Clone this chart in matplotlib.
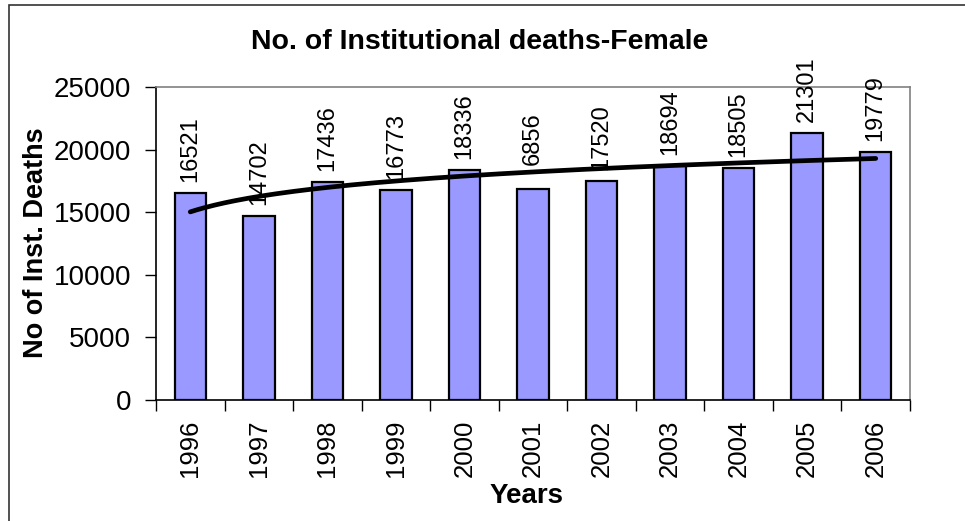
import numpy as np
import matplotlib
matplotlib.use("Agg")
import matplotlib.pyplot as plt
from matplotlib.patches import Rectangle

years = ["1996", "1997", "1998", "1999", "2000", "2001", "2002", "2003", "2004", "2005", "2006"]
deaths = [16521, 14702, 17436, 16773, 18336, 16856, 17520, 18694, 18505, 21301, 19779]
value_labels = ["16521", "14702", "17436", "16773", "18336", "6856", "17520", "18694", "18505", "21301", "19779"]
yticks = [0, 5000, 10000, 15000, 20000, 25000]

plt.rcParams['font.family'] = ['Liberation Sans', 'DejaVu Sans']

fig = plt.figure(figsize=(9.65, 5.21), dpi=100)
# outer chart border
fig.patches.append(Rectangle((9 / 965, -0.05), 1.1, 1 - 5 / 521 + 0.05, transform=fig.transFigure,
                             fill=False, edgecolor='#333333', linewidth=1.2))

ax = fig.add_axes([156 / 965, (521 - 400) / 521, (910 - 156) / 965, (400 - 87) / 521])
x = np.arange(len(years))
ax.bar(x, deaths, width=0.46, color='#9999FF', edgecolor='black', linewidth=1.6, zorder=2)

# logarithmic trend line fitted to the data
lx = np.log(x + 1)
coef = np.polyfit(lx, deaths, 1)
xs = np.linspace(0, len(years) - 1, 200)
ax.plot(xs, np.polyval(coef, np.log(xs + 1)), color='black', linewidth=3.4, zorder=3,
        solid_capstyle='round')

lab_fs = 17
for xi, v, lab in zip(x, deaths, value_labels):
    extra = (5 - len(lab)) * 0.556 * lab_fs
    ax.annotate(lab, (xi, v), xytext=(0, 8 + extra), textcoords='offset points', rotation=90,
                ha='center', va='bottom', fontsize=lab_fs, zorder=4)

ax.set_xlim(-0.5, len(years) - 0.5)
ax.set_ylim(0, 25000)
ax.set_yticks(yticks)
ax.set_yticklabels([str(t) for t in yticks], fontsize=20)
ax.set_xticks(np.arange(-0.5, len(years), 1.0))
ax.set_xticklabels([])
ax.set_xticks(x, minor=True)
ax.set_xticklabels(years, minor=True, rotation=90, fontsize=18.5)
ax.tick_params(axis='x', which='minor', length=0, pad=14)
ax.tick_params(axis='x', which='major', length=8, width=1, direction='out')
ax.tick_params(axis='y', length=8, width=1, direction='out', pad=10)

for s in ['top', 'right']:
    ax.spines[s].set_color('#808080')
    ax.spines[s].set_linewidth(1.2)
for s in ['left', 'bottom']:
    ax.spines[s].set_color('black')
    ax.spines[s].set_linewidth(1.2)

fig.text(480 / 965, 1 - 42 / 521, "No. of Institutional deaths-Female", ha='center', va='center',
         fontsize=20.5, fontweight='bold')
fig.text(36 / 965, 1 - 243 / 521, "No of Inst. Deaths", ha='center', va='center', rotation=90,
         fontsize=19.5, fontweight='bold')
fig.text(527 / 965, 1 - 496 / 521, "Years", ha='center', va='center', fontsize=20, fontweight='bold')

fig.savefig("out.png", dpi=100)
